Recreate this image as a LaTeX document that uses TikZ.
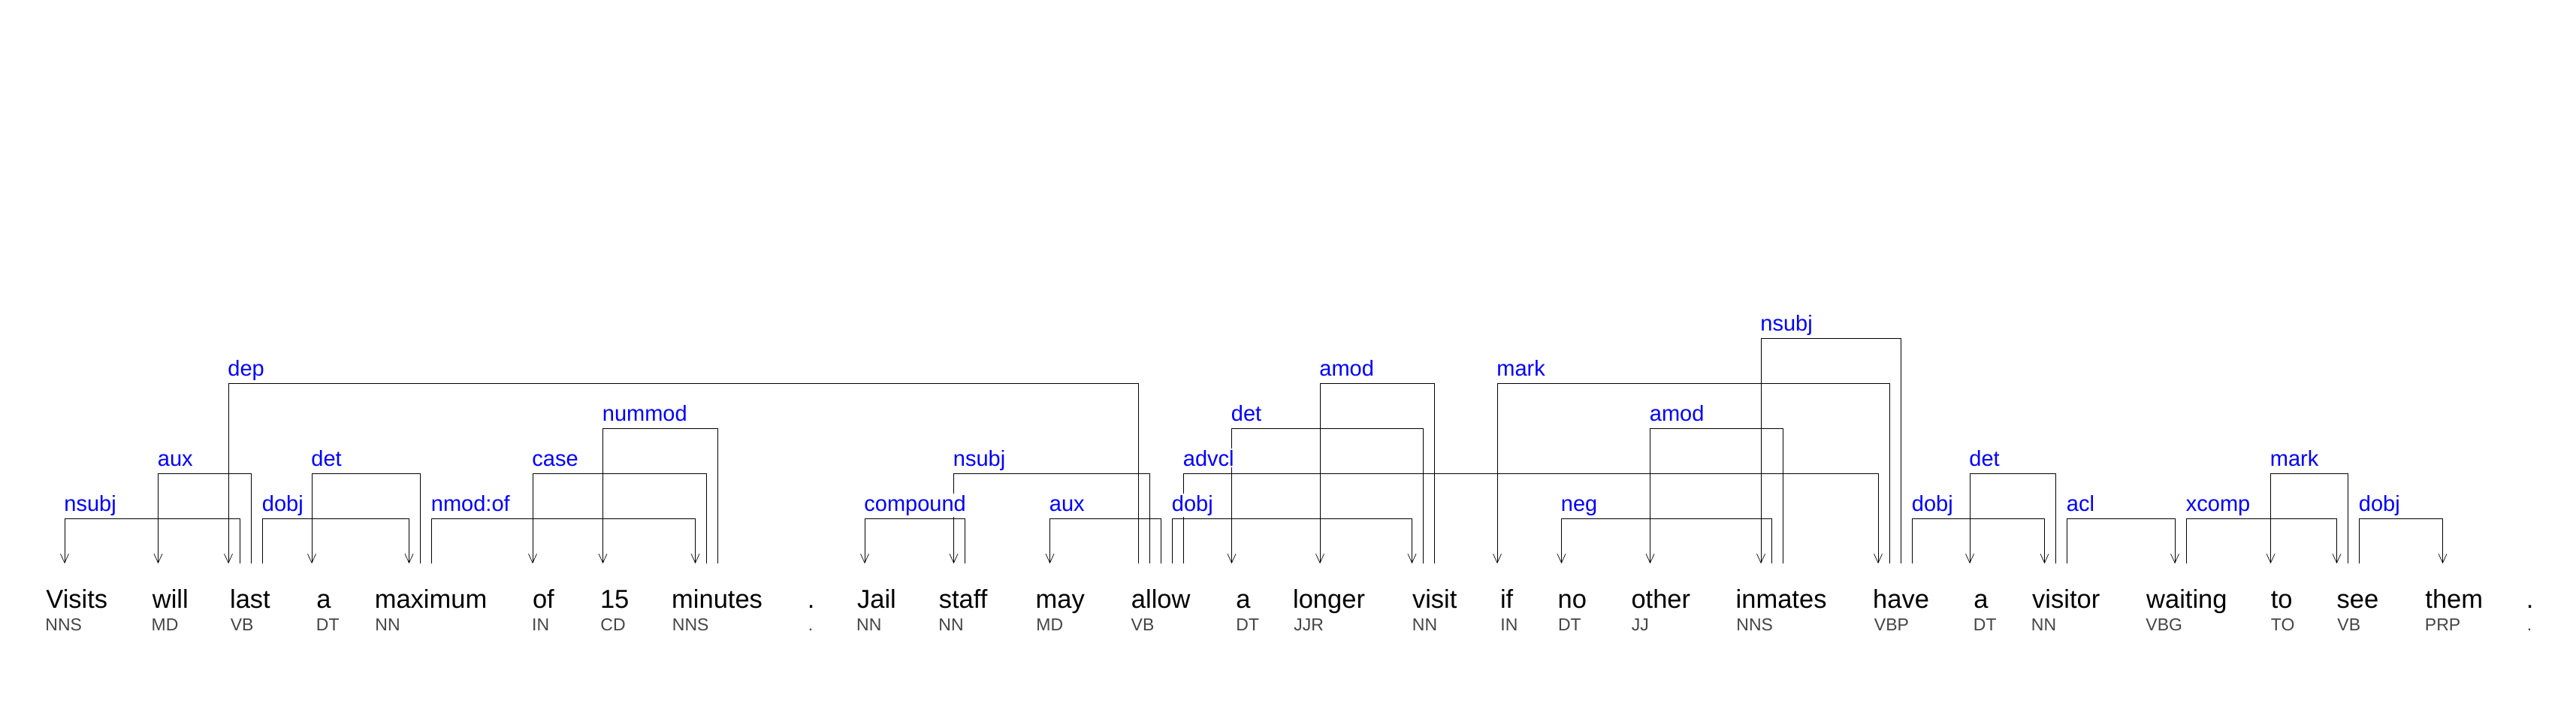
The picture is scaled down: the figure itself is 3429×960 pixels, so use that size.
\documentclass[tikz,border=0pt]{standalone}
\usepackage{fontspec}
\setmainfont{Liberation Sans}
\usetikzlibrary{arrows.meta}
\pgfdeclarelayer{fg}
\pgfsetlayers{main,fg}
\definecolor{lblblue}{HTML}{0000FF}
\definecolor{tagc}{HTML}{444444}
\tikzset{
  word/.style={anchor=base west, inner sep=0pt, text=black, font=\fontsize{17.25pt}{20pt}\selectfont},
  tagn/.style={anchor=base west, inner sep=0pt, text=tagc, font=\fontsize{11.5pt}{14pt}\selectfont},
  lbl/.style={anchor=base west, inner xsep=0.5pt, inner ysep=1pt, fill=white, text=lblblue, font=\fontsize{14.5pt}{17pt}\selectfont},
  arcline/.style={draw=black, line width=0.5pt, -{Straight Barb[length=6pt,width=5.5pt,line width=0.35pt]}},
}
% #1 name, #2 head x, #3 dependent x, #4 level y, #5 label
\newcommand\deparc[5]{%
  \coordinate (#1h) at (#2,750);
  \coordinate (#1d) at (#3,750);
  \draw[arcline] (#1h) -- ++(0,{#4-750}) -| (#1d);
  \pgfmathsetmacro\lblx{min(#2,#3)-2}
  \begin{pgfonlayer}{fg}
    \node[lbl] (#1l) at (\lblx,{#4-10}) {#5};
  \end{pgfonlayer}
}
\begin{document}
\begin{tikzpicture}[x=0.5pt,y=-0.5pt]
\useasboundingbox (0,0) rectangle (3429,960);
% words
\node[word] (w1) at (61,809) {Visits};
\node[word] (w2) at (202.5,809) {will};
\node[word] (w3) at (305.7,809) {last};
\node[word] (w4) at (421,809) {a};
\node[word] (w5) at (498.4,809) {maximum};
\node[word] (w6) at (708.6,809) {of};
\node[word] (w7) at (798.6,809) {15};
\node[word] (w8) at (893.8,809) {minutes};
\node[word] (w9) at (1074.4,809) {.};
\node[word] (w10) at (1140.7,809) {Jail};
\node[word] (w11) at (1249.4,809) {staff};
\node[word] (w12) at (1378.3,809) {may};
\node[word] (w13) at (1505.5,809) {allow};
\node[word] (w14) at (1645,809) {a};
\node[word] (w15) at (1720.7,809) {longer};
\node[word] (w16) at (1879.6,809) {visit};
\node[word] (w17) at (1996.6,809) {if};
\node[word] (w18) at (2073.2,809) {no};
\node[word] (w19) at (2171.1,809) {other};
\node[word] (w20) at (2310.3,809) {inmates};
\node[word] (w21) at (2492.8,809) {have};
\node[word] (w22) at (2627,809) {a};
\node[word] (w23) at (2704.8,809) {visitor};
\node[word] (w24) at (2856.8,809) {waiting};
\node[word] (w25) at (3022.4,809) {to};
\node[word] (w26) at (3110.3,809) {see};
\node[word] (w27) at (3228,809) {them};
\node[word] (w28) at (3362.5,809) {.};
% tags
\node[tagn] (t1) at (60,839) {NNS};
\node[tagn] (t2) at (201.3,839) {MD};
\node[tagn] (t3) at (306.5,839) {VB};
\node[tagn] (t4) at (420.5,839) {DT};
\node[tagn] (t5) at (499,839) {NN};
\node[tagn] (t6) at (707.8,839) {IN};
\node[tagn] (t7) at (799,839) {CD};
\node[tagn] (t8) at (894.5,839) {NNS};
\node[tagn] (t9) at (1075.5,839) {.};
\node[tagn] (t10) at (1139.8,839) {NN};
\node[tagn] (t11) at (1249,839) {NN};
\node[tagn] (t12) at (1379,839) {MD};
\node[tagn] (t13) at (1505.3,839) {VB};
\node[tagn] (t14) at (1645,839) {DT};
\node[tagn] (t15) at (1722,839) {JJR};
\node[tagn] (t16) at (1879.5,839) {NN};
\node[tagn] (t17) at (1997,839) {IN};
\node[tagn] (t18) at (2073.6,839) {DT};
\node[tagn] (t19) at (2171.5,839) {JJ};
\node[tagn] (t20) at (2311,839) {NNS};
\node[tagn] (t21) at (2494.5,839) {VBP};
\node[tagn] (t22) at (2626.5,839) {DT};
\node[tagn] (t23) at (2703.5,839) {NN};
\node[tagn] (t24) at (2856,839) {VBG};
\node[tagn] (t25) at (3022.5,839) {TO};
\node[tagn] (t26) at (3111,839) {VB};
\node[tagn] (t27) at (3227.5,839) {PRP};
\node[tagn] (t28) at (3363.5,839) {.};
% dependency arcs
\deparc{a1}{319}{86}{690}{nsubj}
\deparc{a2}{334}{210.5}{630}{aux}
\deparc{a3}{1515.5}{304}{510}{dep}
\deparc{a4}{349.5}{544.5}{690}{dobj}
\deparc{a5}{559.5}{415}{630}{det}
\deparc{a6}{574.5}{925.5}{690}{nmod:of}
\deparc{a7}{940.5}{709}{630}{case}
\deparc{a8}{955.5}{802.5}{570}{nummod}
\deparc{a9}{1284.5}{1151}{690}{compound}
\deparc{a10}{1530.5}{1269.5}{630}{nsubj}
\deparc{a11}{1545.5}{1397.5}{690}{aux}
\deparc{a12}{1560.5}{1879.5}{690}{dobj}
\deparc{a13}{1575.5}{2500}{630}{advcl}
\deparc{a14}{1894.5}{1639.5}{570}{det}
\deparc{a15}{1909.5}{1757}{510}{amod}
\deparc{a16}{2515.5}{1993}{510}{mark}
\deparc{a17}{2530.5}{2344}{450}{nsubj}
\deparc{a18}{2373.5}{2196.5}{570}{amod}
\deparc{a19}{2358.5}{2078.5}{690}{neg}
\deparc{a20}{2545.5}{2721.5}{690}{dobj}
\deparc{a21}{2736.5}{2622}{630}{det}
\deparc{a22}{2751.5}{2895}{690}{acl}
\deparc{a23}{2910.5}{3110.5}{690}{xcomp}
\deparc{a24}{3125.5}{3022.5}{630}{mark}
\deparc{a25}{3140.5}{3251.5}{690}{dobj}
\end{tikzpicture}
\end{document}
